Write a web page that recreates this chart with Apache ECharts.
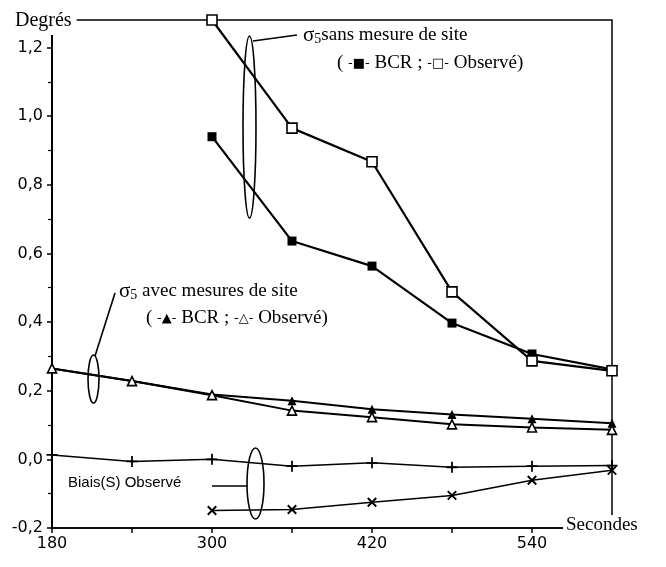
<!DOCTYPE html>
<html><head><meta charset="utf-8">
<script src="https://cdn.jsdelivr.net/npm/echarts@6/dist/echarts.min.js"></script>
<style>html,body{margin:0;padding:0;background:#fff}#c{width:666px;height:567px}</style>
</head><body><div id="c"></div>
<script>
var seconds = [180, 240, 300, 360, 420, 480, 540, 600];
var sansBCR = [null, null, 0.94, 0.636, 0.563, 0.397, 0.307, 0.262];
var sansObs = [null, null, 1.28, 0.965, 0.867, 0.488, 0.287, 0.258];
var avecBCR = [0.265, 0.228, 0.189, 0.171, 0.146, 0.131, 0.118, 0.105];
var avecObs = [0.265, 0.228, 0.187, 0.142, 0.123, 0.102, 0.093, 0.086];
var biaisPlus = [0.013, -0.006, 0.0, -0.02, -0.01, -0.023, -0.02, -0.018];
var biaisCross = [null, null, -0.149, -0.146, -0.125, -0.105, -0.061, -0.032];
var xTickLabels = [180, 300, 420, 540];

function pairs(arr){ return seconds.map(function(s,i){return [s, arr[i]];}).filter(function(p){return p[1]!==null;}); }
var plusPath = 'path://M4.2,0h1.6v10h-1.6z M0,4.2h10v1.6h-10z';
var serif = 'Liberation Serif';
var sans = 'DejaVu Sans';

var chart = echarts.init(document.getElementById('c'), null, {renderer:'canvas'});
function lineSeries(name, arr, symbol, size, fill, lw, extra){
  var s = {
    name: name, type: 'line', data: pairs(arr), clip: false,
    symbol: symbol, symbolSize: size, showSymbol: true,
    lineStyle: {color:'#000', width: lw},
    itemStyle: {color: fill, borderColor:'#000', borderWidth: fill === '#fff' ? 1.6 : 0},
    z: 3
  };
  for (var k in extra) s[k] = extra[k];
  return s;
}
chart.setOption({
  animation: false,
  backgroundColor: '#fff',
  grid: {left: 52, right: 54, top: 20, bottom: 39, show: true, borderColor: '#000', borderWidth: 1.5},
  xAxis: {
    type: 'value', min: 180, max: 600, interval: 60,
    axisLine: {show: true, onZero: false, lineStyle: {color:'#000', width: 1.5}},
    axisTick: {show: true, length: 5, lineStyle: {color:'#000', width: 1.5}},
    splitLine: {show: false},
    axisLabel: {
      color: '#000', fontFamily: sans, fontSize: 16, margin: 8,
      formatter: function(v){ return xTickLabels.indexOf(Math.round(v)) >= 0 ? String(Math.round(v)) : ''; }
    }
  },
  yAxis: {
    type: 'value', min: -0.2, max: 1.28, interval: 0.2,
    axisLine: {show: true, onZero: false, lineStyle: {color:'#000', width: 2}},
    axisTick: {show: true, length: 5, lineStyle: {color:'#000', width: 1.5}},
    minorTick: {show: true, splitNumber: 2, length: 4, lineStyle: {color:'#000', width: 1.2}},
    splitLine: {show: false},
    axisLabel: {
      color: '#000', fontFamily: sans, fontSize: 16, margin: 9,
      showMaxLabel: false,
      formatter: function(v){
        var k = v * 5;
        if (Math.abs(Math.round(k) - k) > 1e-6 || v > 1.21) return '';
        return v.toFixed(1).replace('.', ',');
      }
    }
  },
  series: [
    lineSeries('sansBCR', sansBCR, 'rect', 9, '#000', 2.2, {}),
    lineSeries('sansObs', sansObs, 'rect', 10, '#fff', 2.2, {}),
    lineSeries('avecBCR', avecBCR, 'triangle', 9, '#000', 2, {}),
    lineSeries('avecObs', avecObs, 'triangle', 9, '#fff', 2, {}),
    lineSeries('biaisPlus', biaisPlus, plusPath, 11, '#000', 1.5, {}),
    lineSeries('biaisCross', biaisCross, plusPath, 12, '#000', 1.5, {symbolRotate: 45})
  ],
  graphic: [
    {type:'text', left: 11, top: 9, z: 100, style: {text: 'Degrés', fontFamily: serif, fontSize: 20, fill:'#000', backgroundColor:'#fff', padding:[2,5,4,4]}},
    {type:'text', left: 563, top: 515, z: 100, style: {text: 'Secondes', fontFamily: serif, fontSize: 19, fill:'#000', backgroundColor:'#fff', padding:[1,2,3,3]}},
    {type:'ellipse', z: 50, shape:{cx: 249.5, cy: 127, rx: 6.5, ry: 91}, style:{fill:'none', stroke:'#000', lineWidth: 1.6}},
    {type:'polyline', z: 50, shape:{points:[[253,41],[297,35]]}, style:{fill:'none', stroke:'#000', lineWidth: 1.6}},
    {type:'ellipse', z: 50, shape:{cx: 93.5, cy: 379, rx: 5.5, ry: 24}, style:{fill:'none', stroke:'#000', lineWidth: 1.6}},
    {type:'polyline', z: 50, shape:{points:[[95,356],[115,293]]}, style:{fill:'none', stroke:'#000', lineWidth: 1.6}},
    {type:'ellipse', z: 50, shape:{cx: 255.5, cy: 483.5, rx: 8.5, ry: 35.5}, style:{fill:'none', stroke:'#000', lineWidth: 1.6}},
    {type:'polyline', z: 50, shape:{points:[[212,486],[247,486]]}, style:{fill:'none', stroke:'#000', lineWidth: 1.6}},
    {type:'text', left: 303, top: 25, z: 60, style: {
      text: '{g|σ}{s|5}sans mesure de site', fill:'#000',
      rich: {g:{fontFamily: serif, fontSize: 21, fill:'#000'}, s:{fontFamily: serif, fontSize: 14, fill:'#000', padding:[8,0,0,0]}},
      fontFamily: serif, fontSize: 19}},
    {type:'text', left: 337, top: 54, z: 60, style: {
      text: '( {m|-■-} BCR ; {m|-□-} Observé)', fill:'#000', fontFamily: serif, fontSize: 19,
      rich: {m:{fontFamily: sans, fontSize: 13, fill:'#000'}}}},
    {type:'text', left: 119, top: 281, z: 60, style: {
      text: '{g|σ}{s|5} avec mesures de site', fill:'#000',
      rich: {g:{fontFamily: serif, fontSize: 21, fill:'#000'}, s:{fontFamily: serif, fontSize: 14, fill:'#000', padding:[8,0,0,0]}},
      fontFamily: serif, fontSize: 19}},
    {type:'text', left: 146, top: 309, z: 60, style: {
      text: '( {m|-▲-} BCR ; {m|-△-} Observé)', fill:'#000', fontFamily: serif, fontSize: 19,
      rich: {m:{fontFamily: sans, fontSize: 13, fill:'#000'}}}},
    {type:'text', left: 68, top: 475, z: 60, style: {text: 'Biais(S) Observé', fill:'#000', fontFamily: 'Liberation Sans', fontSize: 15}}
  ]
});
</script></body></html>
